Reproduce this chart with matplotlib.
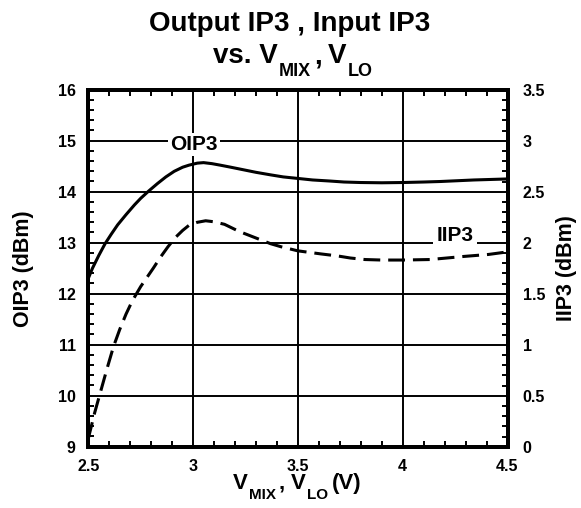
import matplotlib
matplotlib.use('Agg')
import matplotlib.pyplot as plt
from matplotlib.ticker import MultipleLocator
from matplotlib.transforms import IdentityTransform

plt.rcParams['font.family'] = ['Liberation Sans', 'DejaVu Sans']
plt.rcParams['font.weight'] = 'bold'

# ---- data ----
v_oip3 = [2.5, 2.52, 2.55, 2.58, 2.61, 2.64, 2.68, 2.72, 2.75, 2.79, 2.83, 2.87,
          2.91, 2.95, 2.98, 3.02, 3.05, 3.09, 3.13, 3.18, 3.24, 3.3, 3.37, 3.43,
          3.5, 3.57, 3.65, 3.72, 3.8, 3.9, 4.0, 4.1, 4.18, 4.26, 4.34, 4.42, 4.5]
oip3 = [12.3, 12.5, 12.75, 12.98, 13.17, 13.35, 13.55, 13.74, 13.87, 14.02, 14.16,
        14.29, 14.4, 14.48, 14.52, 14.56, 14.57, 14.55, 14.52, 14.48, 14.43, 14.38,
        14.33, 14.29, 14.26, 14.23, 14.21, 14.19, 14.18, 14.175, 14.18, 14.19, 14.2,
        14.215, 14.23, 14.24, 14.25]

v_iip3 = [2.5, 2.53, 2.56, 2.59, 2.62, 2.65, 2.68, 2.71, 2.75, 2.78, 2.81, 2.845,
          2.88, 2.915, 2.95, 2.98, 3.02, 3.06, 3.1, 3.15, 3.22, 3.27, 3.32, 3.37,
          3.42, 3.5, 3.61, 3.69, 3.75, 3.82, 3.9, 4.0, 4.13, 4.2, 4.29, 4.41, 4.5]
iip3 = [0.08, 0.33, 0.55, 0.77, 0.98, 1.15, 1.30, 1.43, 1.57, 1.66, 1.75, 1.86,
        1.96, 2.05, 2.12, 2.17, 2.2, 2.215, 2.205, 2.18, 2.11, 2.07, 2.03, 1.99,
        1.96, 1.92, 1.89, 1.87, 1.85, 1.835, 1.83, 1.83, 1.835, 1.848, 1.865,
        1.885, 1.91]

x_ticks = [2.5, 3, 3.5, 4, 4.5]
x_ticklabels = ['2.5', '3', '3.5', '4', '4.5']
yl_ticks = [9, 10, 11, 12, 13, 14, 15, 16]
yr_ticks = [0, 0.5, 1, 1.5, 2, 2.5, 3, 3.5]
yr_ticklabels = ['0', '0.5', '1', '1.5', '2', '2.5', '3', '3.5']

W, H = 581, 508
fig = plt.figure(figsize=(W / 100, H / 100), dpi=100)
L, R, T, B = 88.3, 507.5, 89.7, 446.7
ax = fig.add_axes([L / W, (H - B) / H, (R - L) / W, (B - T) / H])
ax2 = ax.twinx()

ax.set_xlim(2.5, 4.5)
ax.set_ylim(9, 16)
ax2.set_ylim(0, 3.5)

# grid
for v in yl_ticks[1:-1]:
    ax.axhline(v, color='black', lw=1.4, zorder=1)
for v in x_ticks[1:-1]:
    ax.axvline(v, color='black', lw=1.4, zorder=1)

ax.plot(v_oip3, oip3, color='black', lw=2.2, solid_capstyle='butt',
        solid_joinstyle='round', zorder=3)
ax2.plot(v_iip3, iip3, color='black', lw=2.2, dashes=(5.5, 2.6), zorder=3)

ax.set_xticks(x_ticks)
ax.set_xticklabels(x_ticklabels)
ax.set_yticks(yl_ticks)
ax.set_yticklabels([str(v) for v in yl_ticks])
ax2.set_yticks(yr_ticks)
ax2.set_yticklabels(yr_ticklabels)

ax.xaxis.set_minor_locator(MultipleLocator(0.1))
ax.yaxis.set_minor_locator(MultipleLocator(0.2))
ax2.yaxis.set_minor_locator(MultipleLocator(0.1))

ax.tick_params(which='major', length=0, labelsize=11.5, pad=7)
ax.tick_params(axis='x', which='major', pad=9)
ax.tick_params(which='minor', direction='in', length=4, width=1.4,
               top=True, bottom=True, left=True, right=False)
ax.tick_params(axis='y', which='major', pad=9)
ax2.tick_params(which='major', length=0, labelsize=11.5, pad=11)
ax2.tick_params(which='minor', direction='in', length=4, width=1.4)

for a in (ax, ax2):
    for s in a.spines.values():
        s.set_linewidth(2.8)
    for lab in a.get_xticklabels() + a.get_yticklabels():
        lab.set_fontweight('bold')

ax.set_ylabel('OIP3 (dBm)', fontsize=15.5, fontweight='bold', labelpad=17)
ax2.set_ylabel('IIP3 (dBm)', fontsize=15.5, fontweight='bold', labelpad=8)

ax.text(3.005, 14.93, 'OIP3', fontsize=15, fontweight='bold', ha='center', va='center',
        bbox=dict(facecolor='white', edgecolor='none', pad=1.5), zorder=2)
ax2.text(4.25, 2.075, 'IIP3', fontsize=15, fontweight='bold', ha='center', va='center',
         bbox=dict(facecolor='white', edgecolor='none', pad=2.5), zorder=2)


def rich(xc, y_top, parts):
    r = fig.canvas.get_renderer()
    texts, widths = [], []
    for s, size, dy, gap in parts:
        t = fig.text(0, 0, s, fontsize=size, fontweight='bold', ha='left',
                     va='baseline', transform=IdentityTransform())
        widths.append(t.get_window_extent(r).width)
        texts.append(t)
    total = sum(widths) + sum(p[3] for p in parts)
    x = xc - total / 2
    for t, w, (s, size, dy, gap) in zip(texts, widths, parts):
        x += gap
        t.set_position((x, H - (y_top + dy)))
        x += w


fig.text(290 / W, 1 - 31 / H, 'Output IP3 , Input IP3', fontsize=20, fontweight='bold',
         ha='center', va='baseline')
rich(293, 63, [('vs. V', 20, 0, 0), ('MIX', 13, 13, 1), (',', 20, 0, 3),
               ('V', 20, 0, 6), ('LO', 13, 13, 2)])
rich(297, 489, [('V', 16, 0, 0), ('MIX', 11, 10, 1), (',', 16, 0, 3),
                ('V', 16, 0, 6), ('LO', 11, 10, 1), ('(V)', 16, 0, 4)])

fig.savefig('out.png', dpi=100)
